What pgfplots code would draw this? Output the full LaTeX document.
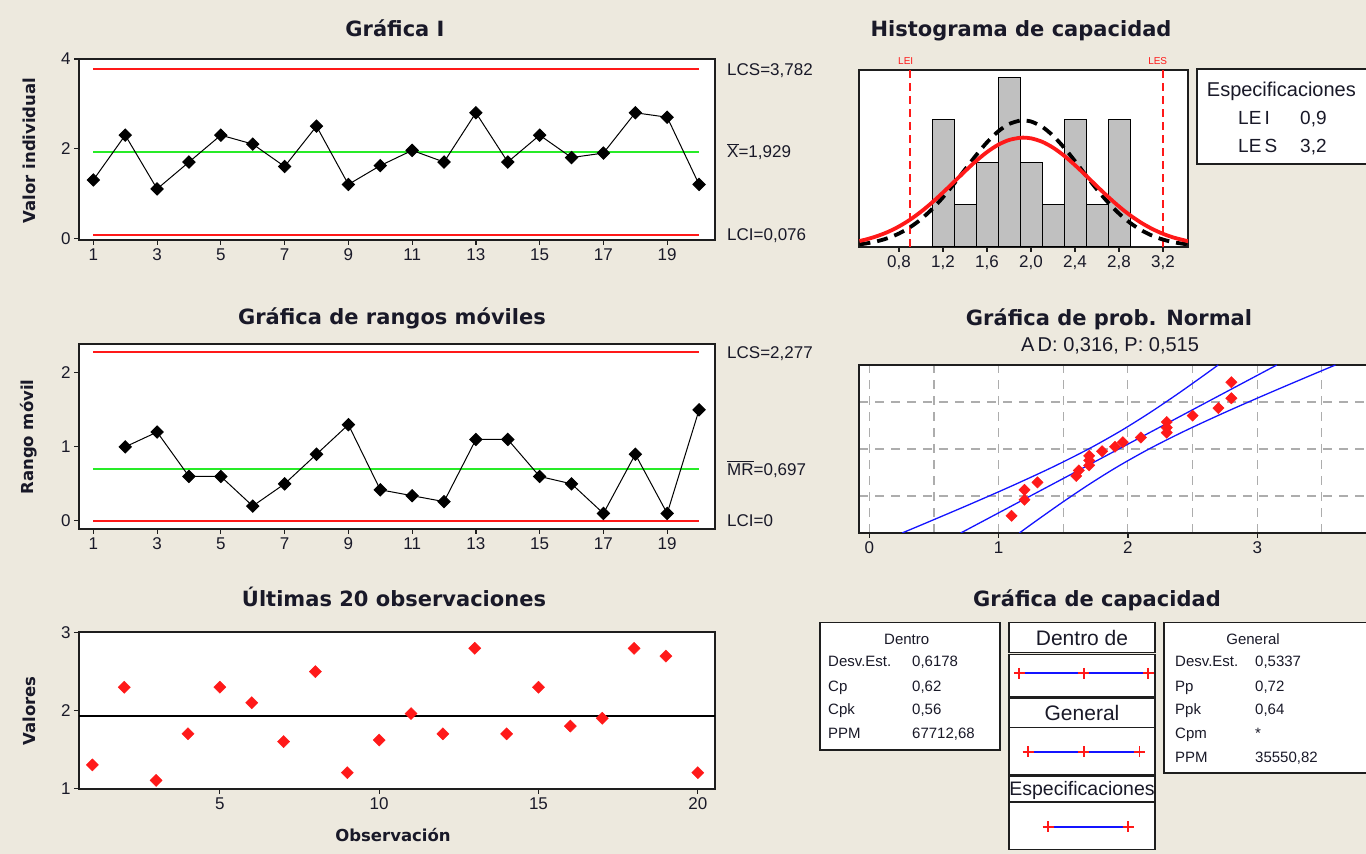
\documentclass[border=0pt]{standalone}
\usepackage{fontspec}
\setmainfont{Liberation Sans}
\newfontfamily\dv{DejaVu Sans}
\usepackage{pgfplots}
\pgfplotsset{compat=1.18}
\definecolor{bg}{RGB}{237,233,222}
\definecolor{cred}{RGB}{255,25,25}
\definecolor{cgreen}{RGB}{40,235,40}
\definecolor{cblue}{RGB}{20,20,255}
\definecolor{cgray}{RGB}{192,192,192}
\definecolor{txt}{RGB}{25,25,40}
\definecolor{ax}{RGB}{30,30,30}
\newcommand\ovl[1]{\setbox0\hbox{#1}\rlap{\rule[\dimexpr\ht0+1.3pt\relax]{\wd0}{0.9pt}}\box0}
\newcommand\tit{\dv\bfseries\fontsize{21}{21}\selectfont}
\newcommand\ylab{\dv\bfseries\fontsize{16.5}{16.5}\selectfont}
\newcommand\rl{\fontsize{17}{17}\selectfont}
\newcommand\st{\fontsize{15}{15}\selectfont}
\pgfplotsset{mt/.style={scale only axis, anchor=south west,
  axis line style={line width=1.5pt, color=ax},
  tick style={line width=1.2pt, color=ax},
  tick align=outside, major tick length=5pt,
  xtick pos=bottom, ytick pos=left,
  tick label style={font=\rl, text=txt},
  /pgf/number format/assume math mode=true,
  axis background/.style={fill=white}}}
\begin{document}
\begin{tikzpicture}
\fill[bg] (0,0) rectangle (1366pt,854pt);
\useasboundingbox (0,0) rectangle (1366pt,854pt);

% ---------- Grafica I ----------
\begin{axis}[mt, at={(79pt,614pt)}, width=636pt, height=181pt,
  xmin=0.55, xmax=20.5, ymin=-0.04, ymax=4,
  xtick={1,3,5,7,9,11,13,15,17,19}, ytick={0,2,4}]
\addplot[cred, line width=2pt] coordinates {(1,3.782)(20,3.782)};
\addplot[cred, line width=2pt] coordinates {(1,0.076)(20,0.076)};
\addplot[cgreen, line width=2pt] coordinates {(1,1.929)(20,1.929)};
\addplot[black, line width=1pt, mark=square*, mark size=4.3pt, mark options={rotate=45, solid}] coordinates {
(1,1.3)(2,2.3)(3,1.1)(4,1.7)(5,2.3)(6,2.1)(7,1.6)(8,2.5)(9,1.2)(10,1.62)
(11,1.96)(12,1.7)(13,2.8)(14,1.7)(15,2.3)(16,1.8)(17,1.9)(18,2.8)(19,2.7)(20,1.2)};
\end{axis}

% ---------- Rangos moviles ----------
\begin{axis}[mt, at={(79pt,325pt)}, width=636pt, height=185pt,
  xmin=0.55, xmax=20.5, ymin=-0.11, ymax=2.39,
  xtick={1,3,5,7,9,11,13,15,17,19}, ytick={0,1,2}]
\addplot[cred, line width=2pt] coordinates {(1,2.277)(20,2.277)};
\addplot[cred, line width=2pt] coordinates {(1,0)(20,0)};
\addplot[cgreen, line width=2pt] coordinates {(1,0.697)(20,0.697)};
\addplot[black, line width=1pt, mark=square*, mark size=4.3pt, mark options={rotate=45, solid}] coordinates {
(2,1.0)(3,1.2)(4,0.6)(5,0.6)(6,0.2)(7,0.5)(8,0.9)(9,1.3)(10,0.42)(11,0.34)
(12,0.26)(13,1.1)(14,1.1)(15,0.6)(16,0.5)(17,0.1)(18,0.9)(19,0.1)(20,1.5)};
\end{axis}

% ---------- Ultimas 20 ----------
\begin{axis}[mt, at={(79pt,65pt)}, width=636pt, height=157pt,
  xmin=0.58, xmax=20.54, ymin=0.99, ymax=3.01,
  xtick={5,10,15,20}, ytick={1,2,3}]
\addplot[black, line width=1.2pt] coordinates {(0.58,1.929)(20.54,1.929)};
\addplot[only marks, mark=square*, mark size=4.3pt, color=cred, mark options={rotate=45, fill=cred}] coordinates {
(1,1.3)(2,2.3)(3,1.1)(4,1.7)(5,2.3)(6,2.1)(7,1.6)(8,2.5)(9,1.2)(10,1.62)
(11,1.96)(12,1.7)(13,2.8)(14,1.7)(15,2.3)(16,1.8)(17,1.9)(18,2.8)(19,2.7)(20,1.2)};
\end{axis}

% ---------- Histograma ----------
\begin{axis}[mt, at={(859pt,607pt)}, width=329pt, height=177pt,
  xmin=0.436, xmax=3.427, ymin=0, ymax=4.18,
  xtick={0.8,1.2,1.6,2.0,2.4,2.8,3.2},
  xticklabels={{0,8},{1,2},{1,6},{2,0},{2,4},{2,8},{3,2}}, ytick=\empty]
\addplot[ybar interval, fill=cgray, draw=black, line width=1pt] coordinates {
(1.1,3)(1.3,1)(1.5,2)(1.7,4)(1.9,2)(2.1,1)(2.3,3)(2.5,1)(2.7,3)(2.9,0)};
\addplot[cred, line width=1.5pt, dash pattern=on 8pt off 5pt] coordinates {(0.9,0)(0.9,4.18)};
\addplot[cred, line width=1.5pt, dash pattern=on 8pt off 5pt] coordinates {(3.2,0)(3.2,4.18)};
\addplot[black, line width=3.8pt, smooth, dash pattern=on 11pt off 7pt] coordinates {
(0.44,0.061)(0.5,0.083)(0.6,0.135)(0.7,0.211)(0.8,0.319)(0.9,0.466)(1.0,0.657)(1.1,0.895)
(1.2,1.176)(1.3,1.493)(1.4,1.830)(1.5,2.165)(1.6,2.473)(1.7,2.727)(1.8,2.904)(1.9,2.986)
(1.929,2.990)(2.0,2.964)(2.1,2.840)(2.2,2.628)(2.3,2.348)(2.4,2.026)(2.5,1.687)(2.6,1.357)
(2.7,1.053)(2.8,0.789)(2.9,0.571)(3.0,0.399)(3.1,0.269)(3.2,0.175)(3.3,0.110)(3.43,0.057)};
\addplot[cred, line width=3.8pt, smooth] coordinates {
(0.44,0.142)(0.5,0.178)(0.6,0.256)(0.7,0.357)(0.8,0.486)(0.9,0.645)(1.0,0.834)(1.1,1.050)
(1.2,1.288)(1.3,1.538)(1.4,1.790)(1.5,2.030)(1.6,2.242)(1.7,2.412)(1.8,2.527)(1.9,2.580)
(1.929,2.583)(2.0,2.566)(2.1,2.486)(2.2,2.346)(2.3,2.157)(2.4,1.932)(2.5,1.685)(2.6,1.432)
(2.7,1.186)(2.8,0.956)(2.9,0.751)(3.0,0.575)(3.1,0.429)(3.2,0.311)(3.3,0.220)(3.43,0.135)};
\end{axis}

% ---------- Prob normal ----------
\begin{axis}[mt, at={(859pt,321pt)}, width=514.6pt, height=168pt,
  xmin=-0.08, xmax=3.9, ymin=-2.29, ymax=2.29,
  xtick={0,1,2,3}, minor xtick={0.5,1.5,2.5,3.5},
  ytick={-1.2816,0,1.2816}, yticklabels={,,}, ytick style={draw=none},
  minor tick length=0pt, grid=both,
  grid style={dash pattern=on 9pt off 7pt, color=black!32, line width=1.1pt},
  minor grid style={dash pattern=on 9pt off 7pt, color=black!32, line width=1.1pt}]
\addplot[cblue, line width=1.3pt] coordinates {(0.7068,-2.29)(3.1512,2.29)};
\addplot[cblue, line width=1.3pt, smooth] coordinates {
(0.2533,-2.29)(0.4494,-2)(0.7828,-1.5)(1.1063,-1)(1.4134,-0.5)(1.6951,0)
(1.9471,0.5)(2.1737,1)(2.3839,1.5)(2.5842,2)(2.6977,2.29)};
\addplot[cblue, line width=1.3pt, smooth] coordinates {
(1.1603,-2.29)(1.2738,-2)(1.4742,-1.5)(1.6843,-1)(1.9110,-0.5)(2.1629,0)
(2.4447,0.5)(2.7517,1)(3.0753,1.5)(3.4086,2)(3.6047,2.29)};
\addplot[only marks, mark=square*, mark size=4pt, color=cred, mark options={rotate=45, fill=cred}] coordinates {
(1.1,-1.821)(1.2,-1.383)(1.2,-1.115)(1.3,-0.910)(1.6,-0.737)(1.62,-0.584)(1.7,-0.445)
(1.7,-0.312)(1.7,-0.185)(1.8,-0.0615)(1.9,0.0615)(1.96,0.185)(2.1,0.312)(2.3,0.445)
(2.3,0.584)(2.3,0.737)(2.5,0.910)(2.7,1.115)(2.8,1.383)(2.8,1.821)};
\end{axis}

% ---------- Grafica de capacidad (boxes) ----------
\begin{scope}[line width=1.3pt, draw=ax]
\draw[fill=white] (820pt,231.3pt) rectangle (1000pt,104pt);
\draw[fill=white] (1164pt,231.3pt) rectangle (1390pt,81pt);
\draw[fill=white] (1009pt,231.3pt) rectangle (1155pt,201.3pt);
\draw[fill=white] (1009pt,199.7pt) rectangle (1155pt,157pt);
\draw[fill=white] (1009pt,155.7pt) rectangle (1155pt,126.3pt);
\draw[fill=white] (1009pt,126.3pt) rectangle (1155pt,79pt);
\draw[fill=white] (1009pt,77.3pt) rectangle (1155pt,52.3pt);
\draw[fill=white] (1009pt,51.3pt) rectangle (1155pt,4.7pt);
\draw[fill=white] (1197pt,785pt) rectangle (1390pt,690pt);
\end{scope}
\begin{axis}[scale only axis, anchor=south west, at={(1009pt,4.7pt)}, width=146pt, height=226.6pt,
  xmin=-0.2207, xmax=3.975, ymin=-849.3, ymax=-622.7, hide axis, clip=false]
\addplot[cblue, line width=2pt] coordinates {(0.0756,-673.3)(1.929,-673.3)(3.782,-673.3)};
\addplot[cblue, line width=2pt] coordinates {(0.328,-751.7)(1.929,-751.7)(3.530,-751.7)};
\addplot[cblue, line width=2pt] coordinates {(0.9,-826.7)(3.2,-826.7)};
\addplot[only marks, mark=+, mark size=5.5pt, color=cred, mark options={color=cred, line width=1.8pt}] coordinates {
(0.0756,-673.3)(1.929,-673.3)(3.782,-673.3)
(0.328,-751.7)(1.929,-751.7)(3.530,-751.7)
(0.9,-826.7)(3.2,-826.7)};
\end{axis}

% ---------- Text ----------
\begin{scope}[every node/.style={inner sep=0pt, text=txt}]
\node[font=\tit, anchor=base] at (395pt,817pt) {Gráfica I};
\node[font=\tit, anchor=base] at (1021pt,817pt) {Histograma de capacidad};
\node[font=\tit, anchor=base] at (392pt,529.7pt) {Gráfica de rangos móviles};
\node[font=\tit, anchor=base] at (1109pt,528pt) {Gráfica de prob. Normal};
\node[font=\fontsize{20}{20}\selectfont, anchor=base] at (1110pt,502.3pt) {A\,D:\ 0,316, P:\ 0,515};
\node[font=\tit, anchor=base] at (394pt,247pt) {Últimas 20 observaciones};
\node[font=\tit, anchor=base] at (1097pt,247pt) {Gráfica de capacidad};

\node[font=\ylab, rotate=90] at (29pt,703.5pt) {Valor individual};
\node[font=\ylab, rotate=90] at (29pt,417pt) {Rango móvil};
\node[font=\ylab, rotate=90] at (29pt,143pt) {Valores};
\node[font=\ylab, anchor=base] at (393pt,12pt) {Observación};

\node[font=\rl, anchor=base west] at (727pt,778.9pt) {LCS=3,782};
\node[font=\rl, anchor=base west] at (727pt,696.1pt) {\ovl{X}=1,929};
\node[font=\rl, anchor=base west] at (727pt,613.1pt) {LCI=0,076};
\node[font=\rl, anchor=base west] at (727pt,495.5pt) {LCS=2,277};
\node[font=\rl, anchor=base west] at (727pt,378.6pt) {\ovl{MR}=0,697};
\node[font=\rl, anchor=base west] at (727pt,327pt) {LCI=0};

\node[font=\fontsize{10}{10}\selectfont, text=cred] at (905.7pt,793.3pt) {LEI};
\node[font=\fontsize{10}{10}\selectfont, text=cred] at (1157.7pt,793.3pt) {LES};

\node[font=\fontsize{20}{20}\selectfont, anchor=base west] at (1206.7pt,757pt) {Especificaciones};
\node[font=\fontsize{19}{19}\selectfont, anchor=base west] at (1238pt,729.2pt) {LE\,I};
\node[font=\fontsize{19}{19}\selectfont, anchor=base west] at (1300pt,729.2pt) {0,9};
\node[font=\fontsize{19}{19}\selectfont, anchor=base west] at (1238pt,701.5pt) {LE\,S};
\node[font=\fontsize{19}{19}\selectfont, anchor=base west] at (1300pt,701.5pt) {3,2};

\node[font=\st, anchor=base] at (906.7pt,209.3pt) {Dentro};
\node[font=\st, anchor=base west] at (828pt,187pt) {Desv.Est.};
\node[font=\st, anchor=base west] at (912pt,187pt) {0,6178};
\node[font=\st, anchor=base west] at (828pt,162.6pt) {Cp};
\node[font=\st, anchor=base west] at (912pt,162.6pt) {0,62};
\node[font=\st, anchor=base west] at (828pt,139.3pt) {Cpk};
\node[font=\st, anchor=base west] at (912pt,139.3pt) {0,56};
\node[font=\st, anchor=base west] at (828pt,115.3pt) {PPM};
\node[font=\st, anchor=base west] at (912pt,115.3pt) {67712,68};

\node[font=\st, anchor=base] at (1253pt,209.3pt) {General};
\node[font=\st, anchor=base west] at (1175pt,187pt) {Desv.Est.};
\node[font=\st, anchor=base west] at (1255pt,187pt) {0,5337};
\node[font=\st, anchor=base west] at (1175pt,162.6pt) {Pp};
\node[font=\st, anchor=base west] at (1255pt,162.6pt) {0,72};
\node[font=\st, anchor=base west] at (1175pt,139.3pt) {Ppk};
\node[font=\st, anchor=base west] at (1255pt,139.3pt) {0,64};
\node[font=\st, anchor=base west] at (1175pt,115.6pt) {Cpm};
\node[font=\st, anchor=base west] at (1255pt,115.6pt) {*};
\node[font=\st, anchor=base west] at (1175pt,91.9pt) {PPM};
\node[font=\st, anchor=base west] at (1255pt,91.9pt) {35550,82};

\node[font=\fontsize{21}{21}\selectfont, anchor=base] at (1082pt,208.8pt) {Dentro de};
\node[font=\fontsize{21}{21}\selectfont, anchor=base] at (1082pt,133.2pt) {General};
\node[font=\fontsize{19.5}{19.5}\selectfont, anchor=base] at (1082pt,58.2pt) {Especificaciones};
\end{scope}
\end{tikzpicture}
\end{document}
